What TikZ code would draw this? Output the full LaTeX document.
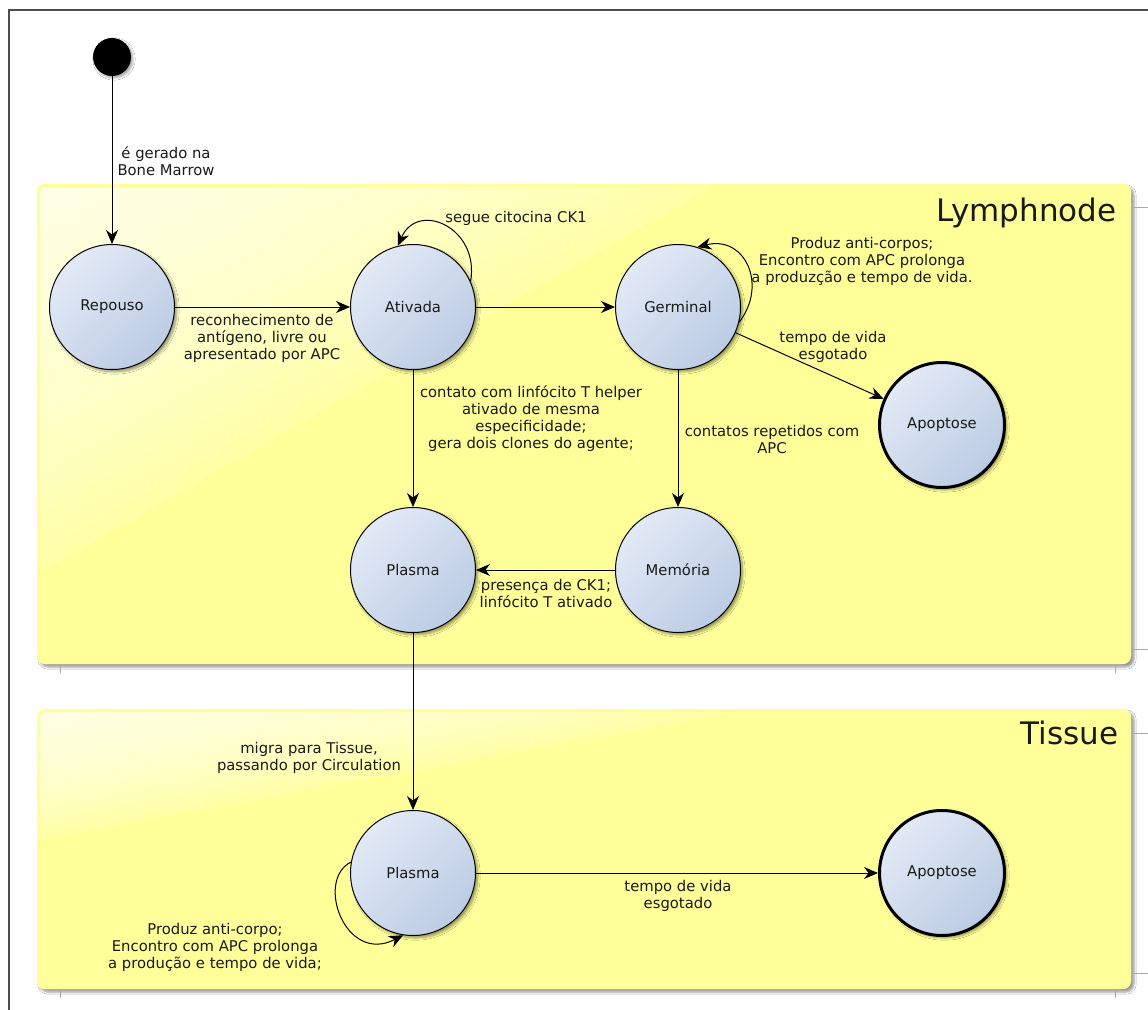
\documentclass[tikz,border=0pt]{standalone}
\usepackage{fontspec}
\setmainfont{DejaVu Sans}
\usetikzlibrary{arrows.meta,shadows.blur}

\definecolor{boxyellow}{HTML}{FFFF99}
\definecolor{statelight}{HTML}{E3EAF6}
\definecolor{statedark}{HTML}{BCCCE4}
\definecolor{framegray}{HTML}{4D4D4D}
\definecolor{tickgray}{HTML}{A8A8A8}
\definecolor{inktext}{HTML}{1A1A1A}

\tikzset{
  every node/.style={font=\fontsize{14.8bp}{17bp}\selectfont, text=inktext},
  state/.style={circle, draw=black, line width=1bp, minimum size=125bp, inner sep=0pt,
    top color=statelight, bottom color=statedark, shading angle=45,
    blur shadow={shadow xshift=2.5bp, shadow yshift=-2.5bp, shadow opacity=40, shadow blur steps=6}},
  finalstate/.style={state, line width=3bp},
  initstate/.style={circle, fill=black, minimum size=38bp, inner sep=0pt,
    blur shadow={shadow xshift=2bp, shadow yshift=-2bp, shadow opacity=35, shadow blur steps=5}},
  conn/.style={draw=black, line width=1bp, -{Stealth[length=14bp,width=12bp,inset=4.5bp]}},
  lbl/.style={align=center, inner sep=0pt},
  region/.style={fill=boxyellow, rounded corners=8bp,
    blur shadow={shadow xshift=3bp, shadow yshift=-3bp, shadow opacity=40, shadow blur steps=6}},
  regionrim/.style={draw=boxyellow, line width=3bp, rounded corners=7bp},
  regiontitle/.style={anchor=base east, font=\fontsize{31bp}{36bp}\selectfont},
  tickmark/.style={draw=tickgray, line width=0.8bp},
  framerule/.style={draw=framegray, line width=1.2bp}
}

\begin{document}
\begin{tikzpicture}[x=1bp,y=-1bp]
\useasboundingbox (0,0) rectangle (1148,1010);
\fill[white] (0,0) rectangle (1148,1010);

% outer frame
\draw[framerule] (9,1010) -- (9,10) -- (1148,10);

% Lymphnode region with glossy corner
\path[region] (37,184) rectangle (1131,664);
\begin{scope}
  \clip[rounded corners=8bp] (37,184) rectangle (1131,664);
  \fill[white, opacity=0.14] (37,184) -- (717,184) -- (37,574) -- cycle;
  \foreach \k in {1,...,19}
    \fill[white, opacity=0.07] (37,184) -- ({37+680*(1-\k/20)},184) -- (37,{184+390*(1-\k/20)}) -- cycle;
\end{scope}
\draw[regionrim] (38.5,185.5) rectangle (1129.5,662.5);
\node[regiontitle] (tLymph) at (1120,221) {Lymphnode};

% Tissue region with glossy corner
\path[region] (37,709) rectangle (1131,989);
\begin{scope}
  \clip[rounded corners=8bp] (37,709) rectangle (1131,989);
  \fill[white, opacity=0.14] (37,709) -- (752,709) -- (37,840) -- cycle;
  \foreach \k in {1,...,19}
    \fill[white, opacity=0.07] (37,709) -- ({37+715*(1-\k/20)},709) -- (37,{709+131*(1-\k/20)}) -- cycle;
\end{scope}
\draw[regionrim] (38.5,710.5) rectangle (1129.5,987.5);
\node[regiontitle] (tTissue) at (1122,744) {Tissue};

% partition marks
\draw[tickmark] (60,665) -- (60,673);
\draw[tickmark] (1115,665) -- (1115,673);
\draw[tickmark] (60,990) -- (60,998);
\draw[tickmark] (1115,990) -- (1115,998);
\draw[tickmark] (1132,207) -- (1148,207);
\draw[tickmark] (1132,649) -- (1148,649);
\draw[tickmark] (1132,733) -- (1148,733);
\draw[tickmark] (1132,973) -- (1148,973);

% states
\node[initstate] (init) at (112,57) {};
\node[state] (repouso) at (112,307) {Repouso};
\node[state] (ativada) at (413,307) {Ativada};
\node[state] (germinal) at (678,307) {Germinal};
\node[finalstate] (apopL) at (942,425) {Apoptose};
\node[state] (plasmaL) at (413,570) {Plasma};
\node[state] (memoria) at (678,570) {Memória};
\node[state] (plasmaT) at (413,873) {Plasma};
\node[finalstate] (apopT) at (942,873) {Apoptose};

% transitions
\draw[conn] (init) -- (repouso);
\draw[conn] (repouso) -- (ativada);
\draw[conn] (ativada.24) .. controls (480,228) and (418,200) .. (ativada.104);
\draw[conn] (ativada) -- (germinal);
\draw[conn] (germinal.-14) .. controls (768,285) and (745,235) .. (germinal.72);
\draw[conn] (germinal) -- (apopL);
\draw[conn] (ativada) -- (plasmaL);
\draw[conn] (germinal) -- (memoria);
\draw[conn] (memoria) -- (plasmaL);
\draw[conn] (plasmaL) -- (plasmaT);
\draw[conn] (plasmaT.170) .. controls (315,880) and (345,965) .. (plasmaT.-99);
\draw[conn] (plasmaT) -- (apopT);

% transition labels
\node[lbl] (tInit) at (166,161) {é gerado na\\Bone Marrow};
\node[lbl] (tRA) at (262,338) {reconhecimento de\\antígeno, livre ou\\apresentado por APC};
\node[lbl] (tAA) at (516,218) {segue citocina CK1};
\node[lbl] (tGG) at (862,261) {Produz anti-corpos;\\Encontro com APC prolonga\\a produzção e tempo de vida.};
\node[lbl] (tGA) at (833,347) {tempo de vida\\esgotado};
\node[lbl] (tAP) at (531,419) {contato com linfócito T helper\\ativado de mesma\\especificidade;\\gera dois clones do agente;};
\node[lbl] (tGM) at (772,439) {contatos repetidos com\\APC};
\node[lbl] (tMP) at (546,593) {presença de CK1;\\linfócito T ativado};
\node[lbl] (tPP) at (309,758) {migra para Tissue,\\passando por Circulation};
\node[lbl] (tPPT) at (215,947) {Produz anti-corpo;\\Encontro com APC prolonga\\a produção e tempo de vida;};
\node[lbl] (tPA) at (678,896) {tempo de vida\\esgotado};
\end{tikzpicture}
\end{document}
